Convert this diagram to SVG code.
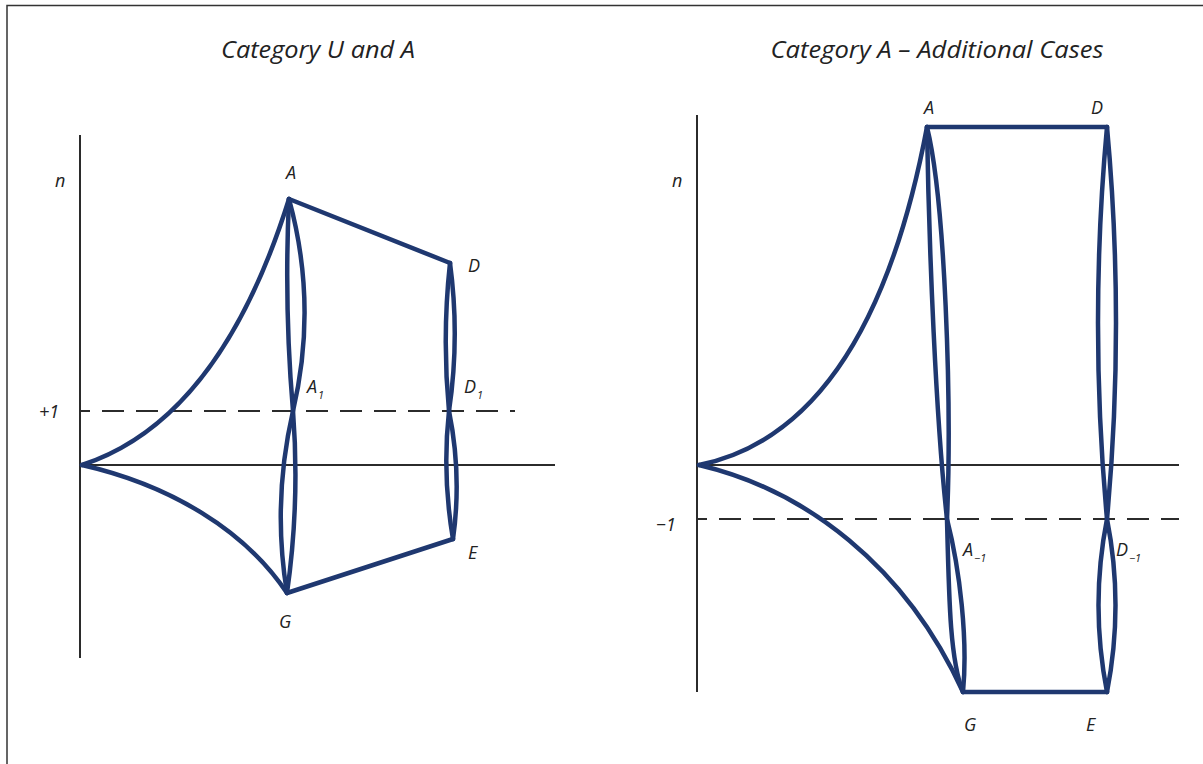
<svg xmlns="http://www.w3.org/2000/svg" width="1203" height="764" viewBox="0 0 1203 764">
<style>
.frame{stroke:#333;stroke-width:1.5;fill:none}
.axis{stroke:#2b2b2b;stroke-width:2;fill:none}
.dash{stroke:#2b2b2b;stroke-width:2;fill:none;stroke-dasharray:22 12;stroke-dashoffset:12}
.c{stroke:#1f3870;stroke-width:4.5;fill:none;stroke-linejoin:round;stroke-linecap:round}
text{font-family:"Open Sans","Liberation Sans",sans-serif;font-style:italic;fill:#222}
.t{font-size:23px;text-anchor:middle}
.l{font-size:18px}
.s{font-size:11px}
</style>
<rect width="1203" height="764" fill="#fff"/>
<path class="frame" d="M7,764 V5.5 H1203"/>
<g id="titles">
<text class="t" x="318" y="58" textLength="194" lengthAdjust="spacingAndGlyphs">Category U and A</text>
<text class="t" x="937" y="58" textLength="333" lengthAdjust="spacingAndGlyphs">Category A – Additional Cases</text>
</g>
<g id="axes">
<line class="axis" x1="80" y1="135" x2="80" y2="658"/>
<line class="axis" x1="80" y1="465" x2="555" y2="465"/>
<line class="dash" x1="80" y1="411" x2="515" y2="411"/>
<line class="axis" x1="697" y1="115" x2="697" y2="692"/>
<line class="axis" x1="697" y1="465" x2="1179" y2="465"/>
<line class="dash" x1="697" y1="519" x2="1179" y2="519"/>
</g>
<g id="connectors">
<path class="c" d="M82,465 Q220,420 289,199"/>
<path class="c" d="M82,465 C170,485 245,530 287,593"/>
<path class="c" d="M289,199 L450,263"/>
<path class="c" d="M287,593 L453,539"/>
<path class="c" d="M289,199 Q318,305 293,411 Q300,502 287,593"/>
<path class="c" d="M289,199 Q284,305 293,411 Q272,502 287,593"/>
<path class="c" d="M450,263 Q460,337 449,411 Q462,475 453,539"/>
<path class="c" d="M450,263 Q442,337 449,411 Q442,475 453,539"/>
<path class="c" d="M699,465 Q870,430 927,127"/>
<path class="c" d="M699,465 C805,490 905,565 963,692"/>
<path class="c" d="M927,127 H1107"/>
<path class="c" d="M963,692 H1107"/>
<path class="c" d="M927,127 C945,200 952,400 947,519 C960,570 968,640 963,692"/>
<path class="c" d="M927,127 C929,250 936,420 947,519 C949,600 950,660 963,692"/>
<path class="c" d="M1107,127 Q1125,323 1107,519 Q1124,605 1107,692"/>
<path class="c" d="M1107,127 Q1089,323 1107,519 Q1090,605 1107,692"/>
</g>
<g id="node-left-labels">
<text class="l" x="55" y="187">n</text>
<text class="l" x="39" y="418">+1</text>
<text class="l" x="286" y="179">A</text>
<text class="l" x="468" y="272">D</text>
<text class="l" x="307" y="393">A<tspan class="s" dx="1" dy="6">1</tspan></text>
<text class="l" x="464" y="393">D<tspan class="s" dx="1" dy="6">1</tspan></text>
<text class="l" x="468" y="559">E</text>
<text class="l" x="279" y="628">G</text>
</g>
<g id="node-right-labels">
<text class="l" x="672" y="187">n</text>
<text class="l" x="656" y="531">−1</text>
<text class="l" x="924" y="114">A</text>
<text class="l" x="1091" y="114">D</text>
<text class="l" x="963" y="556">A<tspan class="s" dx="1" dy="6">−1</tspan></text>
<text class="l" x="1116" y="556">D<tspan class="s" dx="1" dy="6">−1</tspan></text>
<text class="l" x="964" y="731">G</text>
<text class="l" x="1086" y="731">E</text>
</g>
</svg>
